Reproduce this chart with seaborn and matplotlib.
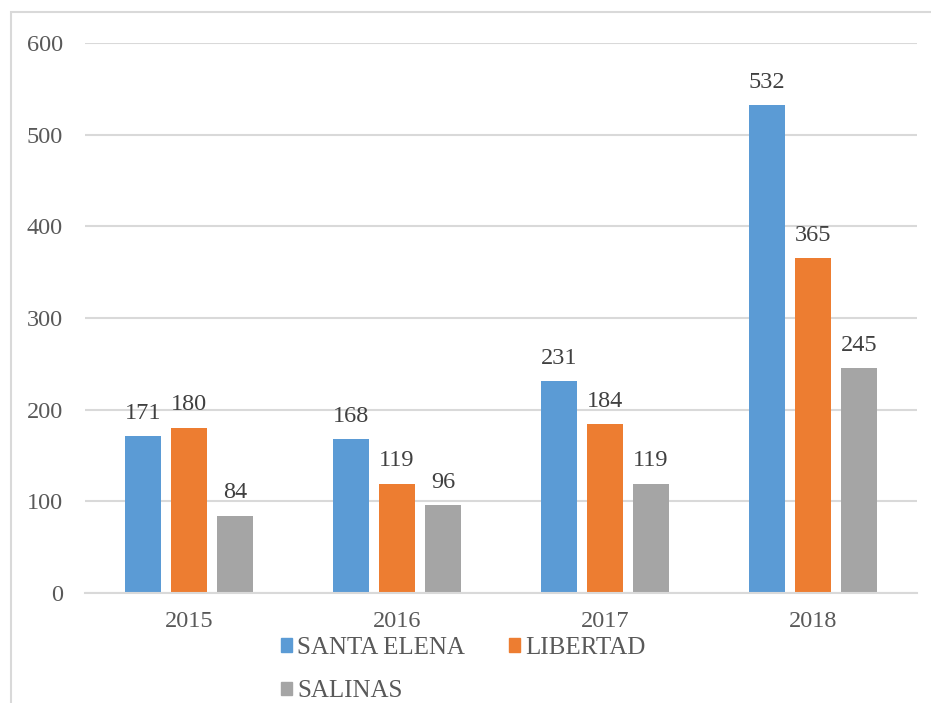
import matplotlib
matplotlib.use("Agg")
import matplotlib.pyplot as plt
import seaborn as sns
import pandas as pd
from matplotlib.patches import Rectangle

years = ["2015", "2016", "2017", "2018"]
series = ["SANTA ELENA", "LIBERTAD", "SALINAS"]
santa_elena = [171, 168, 231, 532]
libertad = [180, 119, 184, 365]
salinas = [84, 96, 119, 245]
colors = ["#5B9BD5", "#ED7D31", "#A5A5A5"]

rows = []
for name, vals in zip(series, [santa_elena, libertad, salinas]):
    for y, v in zip(years, vals):
        rows.append({"year": y, "series": name, "value": v})
df = pd.DataFrame(rows)

sns.set_style("white")
plt.rcParams["font.family"] = ["Liberation Serif", "DejaVu Serif"]

W, H = 931, 703
fig = plt.figure(figsize=(W / 100, H / 100), dpi=100)
ax = fig.add_axes([85 / W, (H - 593) / H, (917 - 85) / W, (593 - 43) / H])

sns.barplot(data=df, x="year", y="value", hue="series", hue_order=series,
            palette=colors, saturation=1, width=0.663, gap=0.2, linewidth=0,
            ax=ax, legend=False, errorbar=None)

ax.set_ylim(0, 600)
ax.set_yticks(range(0, 601, 100))
ax.set_xlim(-0.5, 3.5)
ax.grid(axis="y", color="#D9D9D9", linewidth=1.5)
ax.set_axisbelow(True)
for s in ["left", "right", "top"]:
    ax.spines[s].set_visible(False)
ax.spines["bottom"].set_color("#D9D9D9")
ax.spines["bottom"].set_linewidth(1.5)
ax.set_xlabel("")
ax.set_ylabel("")
ax.tick_params(axis="y", length=0, pad=16, labelsize=17.5, labelcolor="#595959")
ax.tick_params(axis="x", length=0, pad=13, labelsize=17.5, labelcolor="#595959")

for cont in ax.containers:
    ax.bar_label(cont, fmt="%d", padding=9, fontsize=17.5, color="#404040")

handles = [Rectangle((0, 0), 1, 1, color=c) for c in colors]
order = [0, 2, 1]
leg = fig.legend([handles[i] for i in order], [series[i] for i in order],
                 ncol=2, loc="upper left", bbox_to_anchor=(281 / W, 1 - 637 / H),
                 frameon=False, prop={"family": ["Liberation Serif", "DejaVu Serif"], "size": 18},
                 handlelength=0.45, handleheight=0.45,
                 handletextpad=0.2, columnspacing=1.75, labelspacing=0.85,
                 borderpad=0, borderaxespad=0)
for t in leg.get_texts():
    t.set_color("#595959")

border = Rectangle((11 / W, -0.1), 1.2, 1.1 - 12 / H, transform=fig.transFigure,
                   fill=False, edgecolor="#D9D9D9", linewidth=1.5)
fig.add_artist(border)

fig.savefig("out.png", dpi=100)
